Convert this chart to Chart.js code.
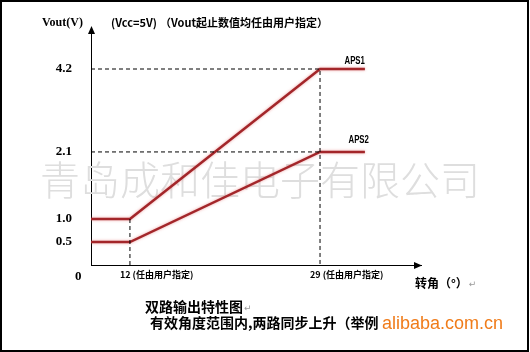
<!DOCTYPE html>
<html>
<head>
<meta charset="utf-8">
<script src="https://cdn.jsdelivr.net/npm/chart.js@4.4.0/dist/chart.umd.min.js"></script>
<style>
  body { margin: 0; background: #fff; }
  canvas { display: block; }
</style>
</head>
<body>
<canvas id="chart" width="530" height="352"></canvas>
<script>
var ANGLES = [0, 12, 29, 33];
var APS1 = [1.0, 1.0, 4.2, 4.2];
var APS2 = [0.5, 0.5, 2.1, 2.1];
var SERIES_NAMES = ['APS1', 'APS2'];
var X_TICKS = [12, 29];
var X_TICK_LABELS = ['12 (任由用户指定)', '29 (任由用户指定)'];
var Y_TICKS = [0.5, 1.0, 2.1, 4.2];
var Y_TICK_LABELS = ['0.5', '1.0', '2.1', '4.2'];

// the original is a sketch, not to scale: each axis is linear only between these stops
var AXIS_STOPS = {
  x: { values: [0, 12, 29, 38], fracs: [0, 0.118, 0.694, 1] },
  y: { values: [0, 1.0, 2.1, 4.2, 5.25], fracs: [0, 0.194, 0.477, 0.827, 1] }
};

class PiecewiseScale extends Chart.LinearScale {
  valueToFrac(v) {
    var s = AXIS_STOPS[this.id];
    var i = 1;
    while (i < s.values.length - 1 && v > s.values[i]) i++;
    var v0 = s.values[i - 1], v1 = s.values[i];
    return s.fracs[i - 1] + (v - v0) / (v1 - v0) * (s.fracs[i] - s.fracs[i - 1]);
  }
  getPixelForValue(v) {
    var f = this.valueToFrac(v);
    return this.isHorizontal() ? this.left + f * this.width : this.bottom - f * this.height;
  }
  getValueForPixel(p) {
    var s = AXIS_STOPS[this.id];
    var f = this.isHorizontal() ? (p - this.left) / this.width : (this.bottom - p) / this.height;
    var i = 1;
    while (i < s.fracs.length - 1 && f > s.fracs[i]) i++;
    var f0 = s.fracs[i - 1], f1 = s.fracs[i];
    return s.values[i - 1] + (f - f0) / (f1 - f0) * (s.values[i] - s.values[i - 1]);
  }
}
PiecewiseScale.id = 'piecewise';
PiecewiseScale.defaults = Chart.LinearScale.defaults;
Chart.register(PiecewiseScale);

function pts(xs, ys) {
  return xs.map(function (x, i) { return { x: x, y: ys[i] }; });
}

// dashed guide lines, taken from the series corners
var guideTop = [{ x: ANGLES[0], y: APS1[2] }, { x: ANGLES[2], y: APS1[2] }, { x: ANGLES[2], y: 0 }];
var guideMid = [{ x: ANGLES[0], y: APS2[2] }, { x: ANGLES[2], y: APS2[2] }];
var guideLeft = [{ x: ANGLES[1], y: APS1[1] }, { x: ANGLES[1], y: 0 }];

const CJK = '"Noto Sans CJK SC"';
const RED = '#a3262a';

function guide(data) {
  return { data: data, borderColor: '#000', borderWidth: 1, borderDash: [4, 3], pointRadius: 0, tension: 0 };
}

// word's paragraph mark after a piece of text
function returnMark(ctx, text, x, y) {
  var w = ctx.measureText(text).width;
  ctx.save();
  ctx.fillStyle = '#999';
  ctx.font = '9px "DejaVu Sans"';
  ctx.fillText('↵', x + w + 1, y + 2);
  ctx.restore();
}

var decor = {
  id: 'decor',
  beforeDatasetsDraw: function (chart) {
    var ctx = chart.ctx;
    ctx.save();
    ctx.font = '300 40px ' + CJK;
    ctx.fillStyle = '#dedede';
    ctx.textAlign = 'left';
    ctx.textBaseline = 'middle';
    ctx.fillText('青岛成和佳电子有限公司', 40, 180);
    ctx.restore();
  },
  beforeDatasetDraw: function (chart, args) {
    if (args.index >= 3) {
      chart.ctx.save();
      chart.ctx.shadowColor = 'rgba(225,100,100,0.6)';
      chart.ctx.shadowBlur = 3;
    }
  },
  afterDatasetDraw: function (chart, args) {
    if (args.index >= 3) chart.ctx.restore();
  },
  afterDraw: function (chart) {
    var ctx = chart.ctx;
    var a = chart.chartArea;
    var x = chart.scales.x, y = chart.scales.y;
    ctx.save();
    ctx.fillStyle = '#000';

    // arrow heads
    var ax = Math.round(a.left) + 0.5;
    ctx.beginPath();
    ctx.moveTo(ax, a.top - 2);
    ctx.lineTo(ax - 3.5, a.top + 6);
    ctx.lineTo(ax + 3.5, a.top + 6);
    ctx.closePath();
    ctx.fill();
    var ay = Math.round(a.bottom) + 0.5;
    ctx.beginPath();
    ctx.moveTo(a.right + 1, ay);
    ctx.lineTo(a.right - 7, ay - 3.5);
    ctx.lineTo(a.right - 7, ay + 3.5);
    ctx.closePath();
    ctx.fill();

    ctx.textBaseline = 'middle';
    ctx.textAlign = 'left';
    ctx.font = 'bold 12px "Liberation Serif"';
    ctx.fillText('Vout(V)', 42, 23);
    ctx.font = 'bold 11px ' + CJK;
    ctx.fillText('(Vcc=5V)', 111, 23);
    ctx.fillText('（Vout起止数值均任由用户指定）', 160, 23);

    ctx.font = 'bold 13px "Liberation Serif"';
    ctx.fillText('0', x.getPixelForValue(0) - 16, y.getPixelForValue(0) + 12);

    ctx.font = 'bold 12px ' + CJK;
    ctx.fillText('转角（°）', 415, 283);
    returnMark(ctx, '转角（°）', 415, 283);

    // series names at the line ends
    ctx.font = 'bold 10px "Liberation Sans"';
    ctx.textAlign = 'right';
    var xe = x.getPixelForValue(ANGLES[3]);
    [[APS1, 0, -8], [APS2, 1, -12]].forEach(function (s) {
      ctx.save();
      ctx.translate(xe + s[1] * 4, y.getPixelForValue(s[0][3]) + s[2]);
      ctx.scale(0.78, 1);
      ctx.fillText(SERIES_NAMES[s[1]], 0, 0);
      ctx.restore();
    });

    // captions below
    ctx.textAlign = 'left';
    ctx.font = 'bold 14px ' + CJK;
    ctx.fillText('双路输出特性图', 145, 307);
    returnMark(ctx, '双路输出特性图', 145, 307);
    ctx.fillText('有效角度范围内,两路同步上升（举例', 150, 323);
    ctx.fillStyle = '#f07c1a';
    ctx.font = '18px "Liberation Sans"';
    ctx.textBaseline = 'alphabetic';
    ctx.fillText('alibaba.com.cn', 382, 329);

    // frame
    ctx.strokeStyle = '#000';
    ctx.lineWidth = 2;
    ctx.strokeRect(1, 1, 527, 350);
    ctx.restore();
  }
};

new Chart(document.getElementById('chart'), {
  type: 'line',
  data: {
    datasets: [
      guide(guideTop),
      guide(guideMid),
      guide(guideLeft),
      { label: SERIES_NAMES[0], data: pts(ANGLES, APS1), borderColor: RED, borderWidth: 2.5, pointRadius: 0, tension: 0 },
      { label: SERIES_NAMES[1], data: pts(ANGLES, APS2), borderColor: RED, borderWidth: 2.5, pointRadius: 0, tension: 0 }
    ]
  },
  options: {
    responsive: false,
    animation: false,
    layout: { padding: { left: 0, top: 28, right: 109, bottom: 67 } },
    plugins: { legend: { display: false }, tooltip: { enabled: false } },
    scales: {
      x: {
        type: 'piecewise',
        min: 0,
        max: 38,
        afterFit: function (s) { s.height = 20; },
        afterBuildTicks: function (s) { s.ticks = X_TICKS.map(function (v) { return { value: v }; }); },
        grid: { display: false, drawTicks: false },
        border: { color: '#000', width: 1 },
        ticks: {
          autoSkip: false,
          maxRotation: 0,
          align: 'start',
          labelOffset: -10,
          padding: 4,
          color: '#000',
          font: { family: CJK, size: 9, weight: 'bold' },
          callback: function (v, i) { return X_TICK_LABELS[i]; }
        }
      },
      y: {
        type: 'piecewise',
        min: 0,
        max: 5.25,
        afterFit: function (s) { s.width = 91; },
        afterBuildTicks: function (s) { s.ticks = Y_TICKS.map(function (v) { return { value: v }; }); },
        grid: { display: false, drawTicks: false },
        border: { color: '#000', width: 1 },
        ticks: {
          autoSkip: false,
          padding: 19,
          color: '#000',
          font: { family: 'Liberation Serif', size: 13, weight: 'bold' },
          callback: function (v, i) { return Y_TICK_LABELS[i]; }
        }
      }
    }
  },
  plugins: [decor]
});
</script>
</body>
</html>
